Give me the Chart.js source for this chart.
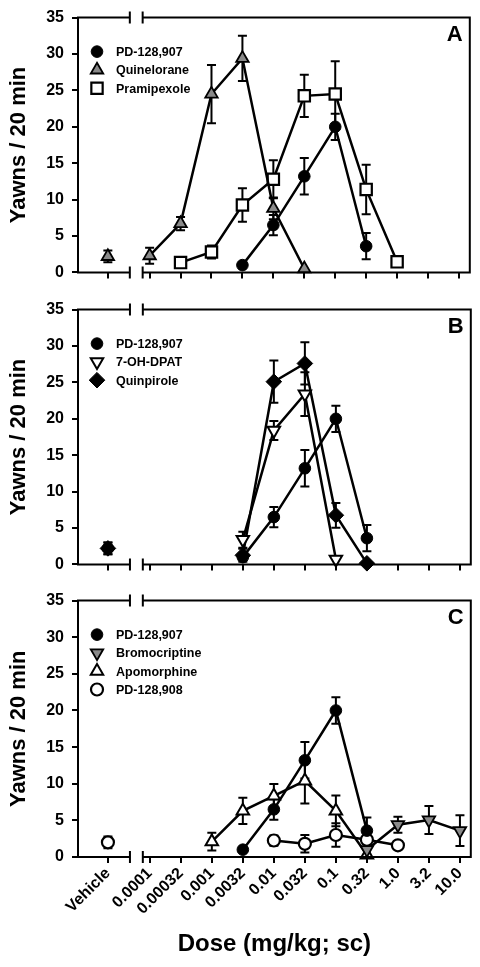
<!DOCTYPE html>
<html><head><meta charset="utf-8">
<script src="https://cdn.jsdelivr.net/npm/chart.js@4/dist/chart.umd.min.js"></script>
<style>
html,body{margin:0;padding:0;background:#fff;}
#wrap{position:relative;width:480px;height:967px;background:#fff;}
.p{position:absolute;left:0;width:480px;}
</style></head><body>
<div id="wrap">
<div class="p" style="top:0;height:290px"><canvas id="cA"></canvas></div>
<div class="p" style="top:292px;height:290px"><canvas id="cB"></canvas></div>
<div class="p" style="top:583px;height:384px"><canvas id="cC"></canvas></div>
</div>
<script>
// ---------- data ----------
const doseLabels = ['0.0001','0.00032','0.001','0.0032','0.01','0.032','0.1','0.32','1.0','3.2','10.0'];
const vehicleLabel = 'Vehicle';
const yTickValues = [0,5,10,15,20,25,30,35];

// PD-128,907 (shared by all panels)
const pd907 = [null,null,null,1.0,6.5,13.2,20.0,3.6,null,null,null];
const pd907Err = [null,null,null,0,1.4,2.5,1.8,1.8,null,null,null];
const pd907Veh = 2.2, pd907VehErr = 0.8;

// Panel A
const quinelorane = [2.3,6.7,24.5,29.4,8.8,0.5,null,null,null,null,null];
const quineloraneErr = [1.1,0.9,4.0,3.1,1.5,0,null,null,null,null,null];
const quineloraneVeh = 2.2, quineloraneVehErr = 0.8;
const pramipexole = [null,1.35,2.8,9.25,12.8,24.25,24.5,11.4,1.45,null,null];
const pramipexoleErr = [null,0.3,0.9,2.3,2.6,2.9,4.5,3.4,0.5,null,null];

// Panel B
const ohdpat = [null,null,null,3.4,18.4,23.4,0.7,null,null,null,null];
const ohdpatErr = [null,null,null,1.1,1.3,3.0,0,null,null,null,null];
const quinpirole = [null,null,null,1.25,25.1,27.6,6.75,0.15,null,null,null];
const quinpiroleErr = [null,null,null,0.9,2.9,2.9,1.7,0,null,null,null];
const quinpiroleVeh = 2.2, quinpiroleVehErr = 0.8;

// Panel C
const bromocriptine = [null,null,null,null,null,null,null,1.0,4.4,5.05,3.6];
const bromocriptineErr = [null,null,null,null,null,null,null,0,1.1,1.9,2.1];
const apomorphine = [null,null,2.1,6.3,8.35,10.4,6.3,0.3,null,null,null];
const apomorphineErr = [null,null,1.2,1.8,1.6,3.1,2.1,0,null,null,null];
const pd908 = [null,null,null,null,2.25,1.8,3.0,2.35,1.6,null,null];
const pd908Err = [null,null,null,null,0.7,1.2,1.6,0.5,0.4,null,null];
const pd908Veh = 2.0, pd908VehErr = 0.8;

// ---------- layout constants (axis positions in dose-index units) ----------
const X_MIN = -2.315, X_MAX = 10.35, VEH_X = -1.35, BREAK_L = -0.64, BREAK_R = -0.225;
const FONT = "'Liberation Sans', Arial, Helvetica, sans-serif";
const GRAY = '#8a8a8a';

const styles = {
  circleBlack: {pointStyle:'circle', pointRadius:5.8, pointBackgroundColor:'#000', pointBorderColor:'#000', pointBorderWidth:1},
  triGray: {pointStyle:'triangle', pointRadius:7.2, pointBackgroundColor:GRAY, pointBorderColor:'#000', pointBorderWidth:1.8},
  squareWhite: {pointStyle:'rect', pointRadius:8, pointBackgroundColor:'#fff', pointBorderColor:'#000', pointBorderWidth:2.2},
  downTriWhite: {pointStyle:'triangle', pointRotation:180, pointRadius:7.2, pointBackgroundColor:'#fff', pointBorderColor:'#000', pointBorderWidth:2},
  diamondBlack: {pointStyle:'rectRot', pointRadius:7.8, pointBackgroundColor:'#000', pointBorderColor:'#000', pointBorderWidth:1},
  downTriGray: {pointStyle:'triangle', pointRotation:180, pointRadius:7.2, pointBackgroundColor:GRAY, pointBorderColor:'#000', pointBorderWidth:1.8},
  triWhite: {pointStyle:'triangle', pointRadius:7.2, pointBackgroundColor:'#fff', pointBorderColor:'#000', pointBorderWidth:2},
  circleWhite: {pointStyle:'circle', pointRadius:6, pointBackgroundColor:'#fff', pointBorderColor:'#000', pointBorderWidth:2.2}
};

function series(label, vals, errs, style) {
  const data = [], err = [];
  vals.forEach((v, i) => { if (v != null) { data.push({x:i, y:v}); err.push(errs[i]); } });
  return Object.assign({label, data, err, borderColor:'#000', borderWidth:2.5, tension:0, clip:false, showLine:true, pointHoverRadius:style.pointRadius}, style);
}
function vehicle(label, v, e, style) {
  return Object.assign({label, data:[{x:VEH_X, y:v}], err:[e], veh:true, showLine:false, clip:false, borderColor:'#000', pointHoverRadius:style.pointRadius}, style);
}

function drawMarker(ctx, st, x, y) {
  const r = st.pointRadius;
  ctx.save();
  ctx.fillStyle = st.pointBackgroundColor; ctx.strokeStyle = st.pointBorderColor; ctx.lineWidth = st.pointBorderWidth;
  ctx.beginPath();
  const rot = (st.pointRotation || 0) * Math.PI / 180;
  if (st.pointStyle === 'circle') ctx.arc(x, y, r, 0, Math.PI*2);
  else if (st.pointStyle === 'rect') { const s = r*Math.SQRT1_2; ctx.rect(x-s, y-s, 2*s, 2*s); }
  else if (st.pointStyle === 'rectRot') { ctx.moveTo(x, y-r); ctx.lineTo(x+r, y); ctx.lineTo(x, y+r); ctx.lineTo(x-r, y); ctx.closePath(); }
  else if (st.pointStyle === 'triangle') {
    let a = rot;
    ctx.moveTo(x + Math.sin(a)*r, y - Math.cos(a)*r);
    a += 2*Math.PI/3; ctx.lineTo(x + Math.sin(a)*r, y - Math.cos(a)*r);
    a += 2*Math.PI/3; ctx.lineTo(x + Math.sin(a)*r, y - Math.cos(a)*r);
    ctx.closePath();
  }
  ctx.fill(); ctx.stroke();
  ctx.restore();
}

const framePlugin = {
  id: 'frame',
  beforeDatasetsDraw(chart) {
    const ctx = chart.ctx, ys = chart.scales.y;
    ctx.save();
    ctx.strokeStyle = '#000'; ctx.lineWidth = 2;
    chart.data.datasets.forEach((ds, i) => {
      if (!ds.err) return;
      const meta = chart.getDatasetMeta(i);
      meta.data.forEach((pt, j) => {
        const e = ds.err[j], d = ds.data[j];
        if (e == null || !d || !(e > 0)) return;
        const x = pt.x;
        const yT = ys.getPixelForValue(d.y + e), yB = ys.getPixelForValue(Math.max(d.y - e, 0));
        ctx.beginPath();
        ctx.moveTo(x, yT); ctx.lineTo(x, yB);
        ctx.moveTo(x-4.5, yT); ctx.lineTo(x+4.5, yT);
        ctx.moveTo(x-4.5, yB); ctx.lineTo(x+4.5, yB);
        ctx.stroke();
      });
    });
    ctx.restore();
  },
  afterDraw(chart) {
    const ctx = chart.ctx, a = chart.chartArea, xs = chart.scales.x;
    const cfg = chart.options.plugins.frame;
    const bl = xs.getPixelForValue(BREAK_L), br = xs.getPixelForValue(BREAK_R);
    ctx.save();
    ctx.strokeStyle = '#000'; ctx.lineWidth = 2; ctx.lineCap = 'butt';
    ctx.beginPath();
    ctx.moveTo(a.left, a.top - 1); ctx.lineTo(a.left, a.bottom + 1);
    ctx.moveTo(a.right, a.top - 1); ctx.lineTo(a.right, a.bottom + 1);
    [a.top, a.bottom].forEach(y => {
      ctx.moveTo(a.left, y); ctx.lineTo(bl, y);
      ctx.moveTo(br, y); ctx.lineTo(a.right, y);
      ctx.moveTo(bl, y - 6); ctx.lineTo(bl, y + 6);
      ctx.moveTo(br, y - 6); ctx.lineTo(br, y + 6);
    });
    ctx.stroke();
    ctx.fillStyle = '#000';
    ctx.font = 'bold 22px ' + FONT;
    ctx.textAlign = 'center'; ctx.textBaseline = 'middle';
    ctx.fillText(cfg.letter, a.right - 15, a.top + 17);
    ctx.font = 'bold 12.5px ' + FONT;
    ctx.textAlign = 'left';
    let row = 0;
    chart.data.datasets.forEach(ds => {
      if (ds.veh) return;
      const y = a.top + 34 + row * 18.3;
      drawMarker(ctx, ds, a.left + 19, y);
      ctx.fillStyle = '#000';
      ctx.fillText(ds.label, a.left + 38, y + 1);
      row++;
    });
    ctx.restore();
  }
};

function makeChart(id, letter, datasets, xAxisHeight, showXLabels) {
  const allTicks = [VEH_X].concat(doseLabels.map((_, i) => i));
  const allLabels = [vehicleLabel].concat(doseLabels);
  return new Chart(document.getElementById(id), {
    type: 'line',
    data: { datasets },
    plugins: [framePlugin],
    options: {
      responsive: true, maintainAspectRatio: false, animation: false,
      layout: { padding: { top: 15, right: 8, left: 0, bottom: 0 } },
      plugins: { legend: { display: false }, tooltip: { enabled: false }, frame: { letter } },
      scales: {
        x: {
          type: 'linear', min: X_MIN, max: X_MAX,
          afterBuildTicks: s => { s.ticks = allTicks.map(v => ({ value: v })); },
          afterFit: s => { s.height = xAxisHeight; },
          border: { display: false },
          grid: { display: true, drawOnChartArea: false, drawTicks: true, tickLength: 6, color: '#000', lineWidth: 2 },
          ticks: {
            display: showXLabels, autoSkip: false, minRotation: 45, maxRotation: 45, padding: 1,
            color: '#000', font: { family: FONT, size: 16, weight: 'bold' },
            callback: (v, i) => allLabels[i]
          },
          title: { display: showXLabels, text: 'Dose (mg/kg; sc)', color: '#000',
                   font: { family: FONT, size: 24, weight: 'bold' }, padding: { top: 0, bottom: 8 } }
        },
        y: {
          type: 'linear', min: 0, max: 35,
          afterBuildTicks: s => { s.ticks = yTickValues.map(v => ({ value: v })); },
          afterFit: s => { s.width = 78; },
          border: { display: false },
          grid: { display: true, drawOnChartArea: false, drawTicks: true, tickLength: 6, color: '#000', lineWidth: 2 },
          ticks: { color: '#000', padding: 8, font: { family: FONT, size: 16, weight: 'bold' } },
          title: { display: true, text: 'Yawns / 20 min', color: '#000',
                   font: { family: FONT, size: 22, weight: 'bold' }, padding: { top: 6, bottom: 0 } }
        }
      }
    }
  });
}

makeChart('cA', 'A', [
  series('PD-128,907', pd907, pd907Err, styles.circleBlack),
  series('Quinelorane', quinelorane, quineloraneErr, styles.triGray),
  series('Pramipexole', pramipexole, pramipexoleErr, styles.squareWhite),
  vehicle('Quinelorane vehicle', quineloraneVeh, quineloraneVehErr, styles.triGray)
], 17, false);

makeChart('cB', 'B', [
  series('PD-128,907', pd907, pd907Err, styles.circleBlack),
  series('7-OH-DPAT', ohdpat, ohdpatErr, styles.downTriWhite),
  series('Quinpirole', quinpirole, quinpiroleErr, styles.diamondBlack),
  vehicle('PD-128,907 vehicle', pd907Veh, pd907VehErr, styles.circleBlack),
  vehicle('Quinpirole vehicle', quinpiroleVeh, quinpiroleVehErr, styles.diamondBlack)
], 16, false);

makeChart('cC', 'C', [
  series('PD-128,907', pd907, pd907Err, styles.circleBlack),
  series('Bromocriptine', bromocriptine, bromocriptineErr, styles.downTriGray),
  series('Apomorphine', apomorphine, apomorphineErr, styles.triWhite),
  series('PD-128,908', pd908, pd908Err, styles.circleWhite),
  vehicle('PD-128,908 vehicle', pd908Veh, pd908VehErr, styles.circleWhite)
], 110, true);
</script>
</body></html>
